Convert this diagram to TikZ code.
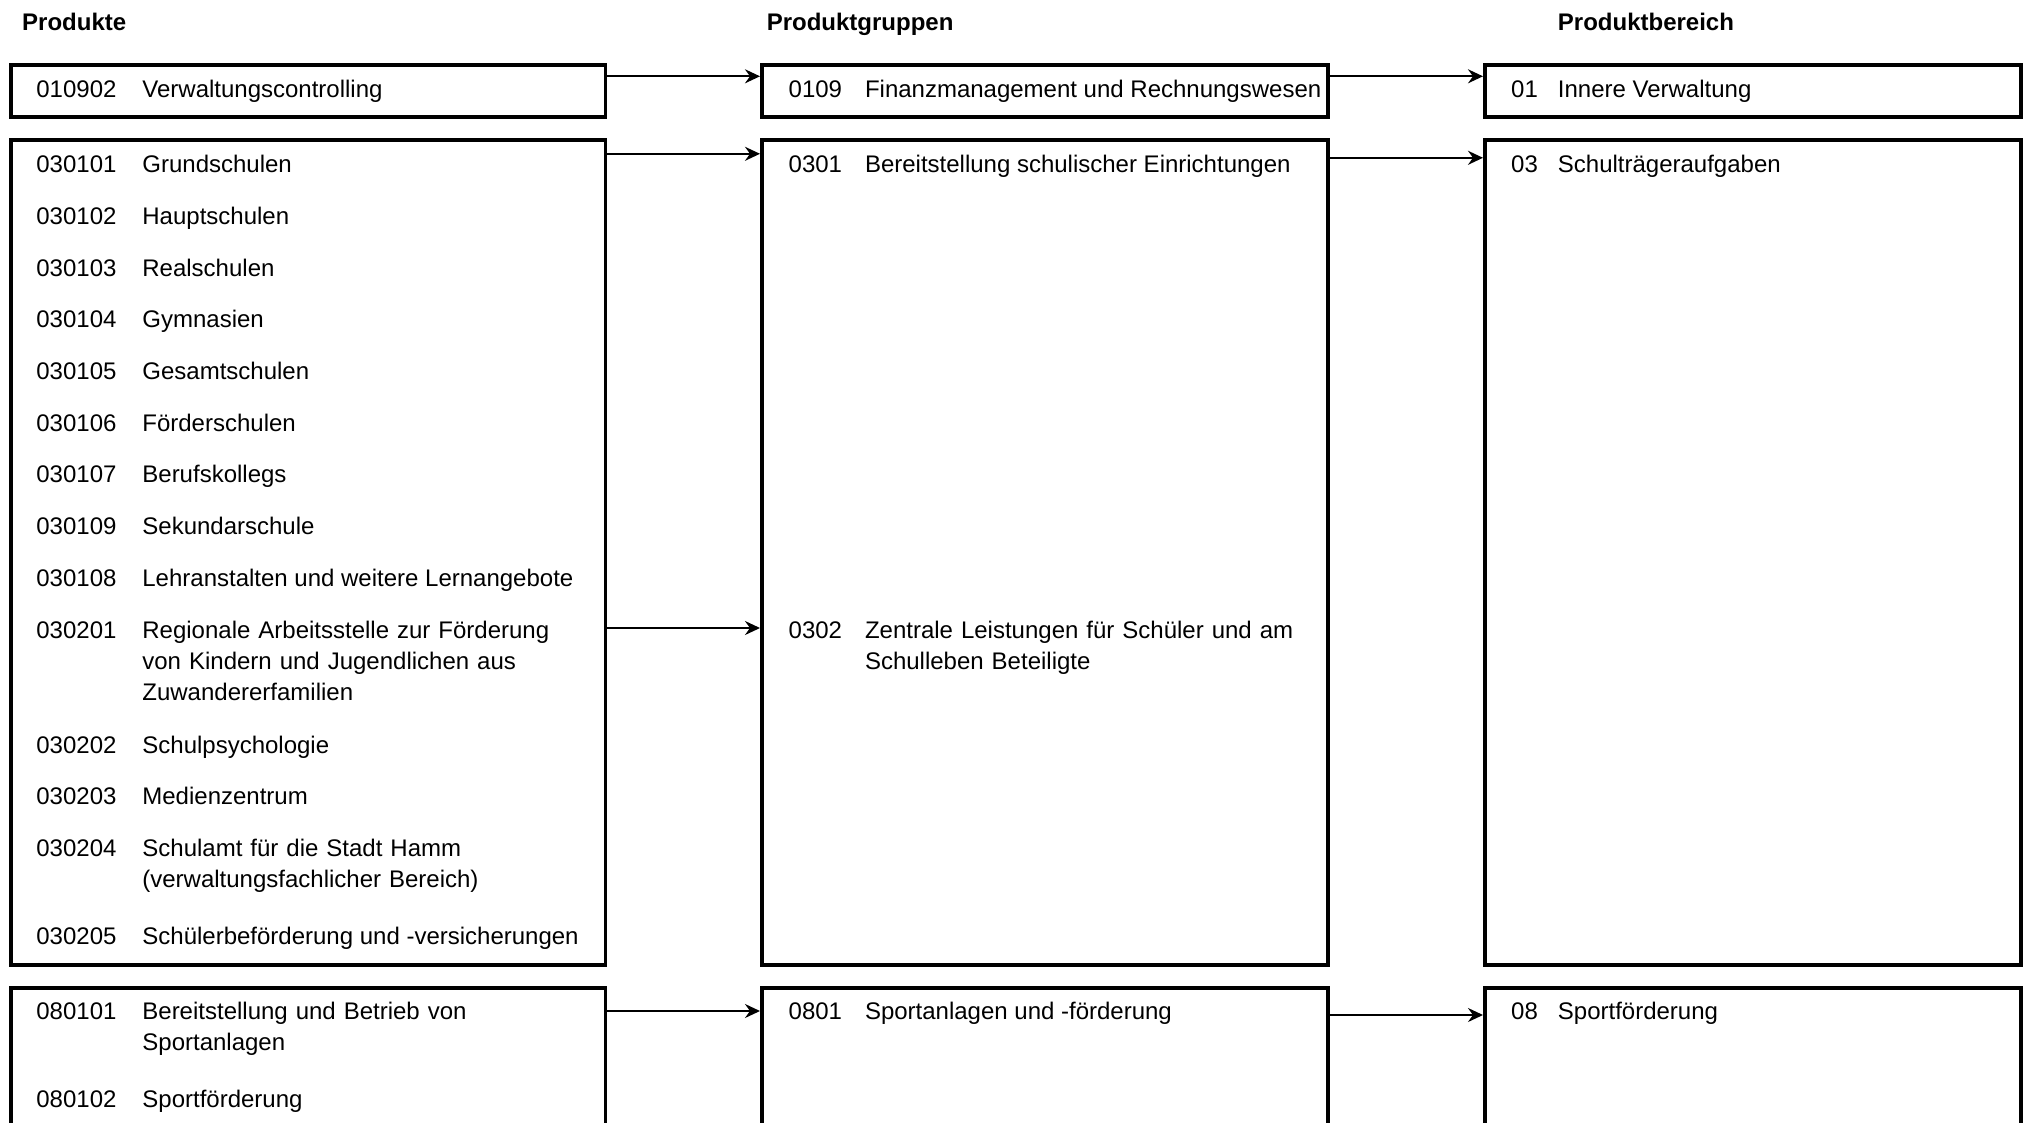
\documentclass[tikz,border=0pt]{standalone}
\usepackage{fontspec}
\setmainfont{Liberation Sans}
\usetikzlibrary{arrows.meta}
\begin{document}
\begin{tikzpicture}[x=1pt,y=-1pt,
  box/.style={draw=black,line width=3.5pt,rectangle,inner sep=0pt,anchor=north west},
  txt/.style={anchor=base west,inner sep=0pt,font=\fontsize{24}{31}\selectfont},
  mtxt/.style={txt,text width=470pt,align=left},
  head/.style={anchor=base west,inner sep=0pt,font=\fontsize{24}{31}\selectfont\bfseries},
  arr/.style={-{Stealth[length=15pt,width=14pt,inset=5pt]},line width=2pt}]
\clip (0,0) rectangle (2027,1122);
\fill[white] (0,0) rectangle (2027,1122);
% headers
\node[head] (h1) at (22,30.6) {Produkte};
\node[head] (h2) at (766.6,30.6) {Produktgruppen};
\node[head] (h3) at (1557.7,30.6) {Produktbereich};
% boxes
\node[box,minimum width=594.7pt,minimum height=51.7pt] (p1) at (9,63.3) {};
\node[box,minimum width=566pt,minimum height=51.7pt] (g1) at (760,63.3) {};
\node[box,minimum width=536pt,minimum height=51.7pt] (b1) at (1483,63.3) {};
\node[box,minimum width=594.7pt,minimum height=824.7pt] (p2) at (9,138.3) {};
\node[box,minimum width=566pt,minimum height=824.7pt] (g2) at (760,138.3) {};
\node[box,minimum width=536pt,minimum height=824.7pt] (b2) at (1483,138.3) {};
\node[box,minimum width=594.7pt,minimum height=200pt] (p3) at (9,986) {};
\node[box,minimum width=566pt,minimum height=200pt] (g3) at (760,986) {};
\node[box,minimum width=536pt,minimum height=200pt] (b3) at (1483,986) {};
% column 1 texts
\node[txt] (c01) at (36.2,97.7) {010902};  \node[txt] (n01) at (142.2,97.7) {Verwaltungscontrolling};
\node[txt] (c02) at (36.2,172.7) {030101}; \node[txt] (n02) at (142.2,172.7) {Grundschulen};
\node[txt] (c03) at (36.2,224.4) {030102}; \node[txt] (n03) at (142.2,224.4) {Hauptschulen};
\node[txt] (c04) at (36.2,276.1) {030103}; \node[txt] (n04) at (142.2,276.1) {Realschulen};
\node[txt] (c05) at (36.2,327.8) {030104}; \node[txt] (n05) at (142.2,327.8) {Gymnasien};
\node[txt] (c06) at (36.2,379.5) {030105}; \node[txt] (n06) at (142.2,379.5) {Gesamtschulen};
\node[txt] (c07) at (36.2,431.2) {030106}; \node[txt] (n07) at (142.2,431.2) {Förderschulen};
\node[txt] (c08) at (36.2,482.9) {030107}; \node[txt] (n08) at (142.2,482.9) {Berufskollegs};
\node[txt] (c09) at (36.2,534.6) {030109}; \node[txt] (n09) at (142.2,534.6) {Sekundarschule};
\node[txt] (c10) at (36.2,586.3) {030108}; \node[txt] (n10) at (142.2,586.3) {Lehranstalten und weitere Lernangebote};
\node[txt] (c11) at (36.2,638) {030201};   \node[mtxt] (n11) at (142.2,638) {Regionale Arbeitsstelle zur Förderung\\von Kindern und Jugendlichen aus\\Zuwandererfamilien};
\node[txt] (c12) at (36.2,753.1) {030202}; \node[txt] (n12) at (142.2,753.1) {Schulpsychologie};
\node[txt] (c13) at (36.2,804.8) {030203}; \node[txt] (n13) at (142.2,804.8) {Medienzentrum};
\node[txt] (c14) at (36.2,856.5) {030204}; \node[mtxt] (n14) at (142.2,856.5) {Schulamt für die Stadt Hamm\\(verwaltungsfachlicher Bereich)};
\node[txt] (c15) at (36.2,944.4) {030205}; \node[txt] (n15) at (142.2,944.4) {Schülerbeförderung und -versicherungen};
\node[txt] (c16) at (36.2,1019.4) {080101}; \node[mtxt] (n16) at (142.2,1019.4) {Bereitstellung und Betrieb von\\Sportanlagen};
\node[txt] (c17) at (36.2,1107.3) {080102}; \node[txt] (n17) at (142.2,1107.3) {Sportförderung};
% column 2 texts
\node[txt] (gc1) at (788.5,97.7) {0109};  \node[txt] (gn1) at (864.8,97.7) {Finanzmanagement und Rechnungswesen};
\node[txt] (gc2) at (788.5,172.7) {0301}; \node[txt] (gn2) at (864.8,172.7) {Bereitstellung schulischer Einrichtungen};
\node[txt] (gc3) at (788.5,638) {0302};   \node[mtxt,text width=440pt] (gn3) at (864.8,638) {Zentrale Leistungen für Schüler und am\\Schulleben Beteiligte};
\node[txt] (gc4) at (788.5,1019.4) {0801}; \node[txt] (gn4) at (864.8,1019.4) {Sportanlagen und -förderung};
% column 3 texts
\node[txt] (bc1) at (1511,97.7) {01};  \node[txt] (bn1) at (1557.7,97.7) {Innere Verwaltung};
\node[txt] (bc2) at (1511,172.7) {03}; \node[txt] (bn2) at (1557.7,172.7) {Schulträgeraufgaben};
\node[txt] (bc3) at (1511,1019.4) {08}; \node[txt] (bn3) at (1557.7,1019.4) {Sportförderung};
% arrows
\draw[arr] ([yshift=-13pt]p1.north east) -- ([yshift=-13pt]g1.north west);
\draw[arr] ([yshift=-13pt]g1.north east) -- ([yshift=-13pt]b1.north west);
\draw[arr] ([yshift=-15.5pt]p2.north east) -- ([yshift=-15.5pt]g2.north west);
\draw[arr] ([yshift=-19.5pt]g2.north east) -- ([yshift=-19.5pt]b2.north west);
\draw[arr] ([yshift=-489.7pt]p2.north east) -- ([yshift=-489.7pt]g2.north west);
\draw[arr] ([yshift=-25pt]p3.north east) -- ([yshift=-25pt]g3.north west);
\draw[arr] ([yshift=-29pt]g3.north east) -- ([yshift=-29pt]b3.north west);
\end{tikzpicture}
\end{document}
